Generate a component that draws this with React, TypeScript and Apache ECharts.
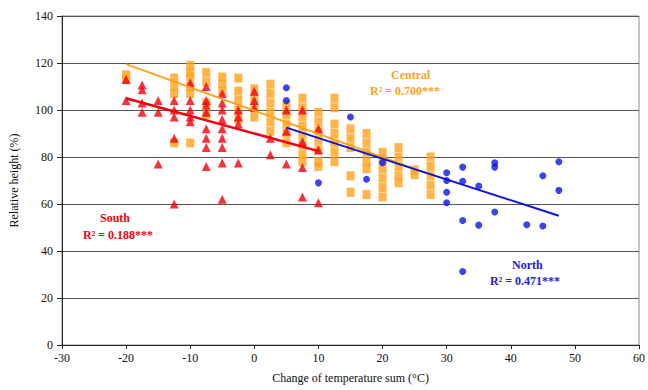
import React, { useEffect, useRef } from "react";
import * as echarts from "echarts";

// South (red triangles): [x, relative height]
const southX = [
  -20, -20,
  -17.5, -17.5, -17.5, -17.5,
  -15, -15, -15,
  -12.5, -12.5, -12.5, -12.5, -12.5,
  -10, -10, -10, -10, -10,
  -7.5, -7.5, -7.5, -7.5, -7.5, -7.5, -7.5, -7.5,
  -5, -5, -5, -5, -5, -5, -5, -5, -5,
  -2.5, -2.5, -2.5, -2.5,
  0, 0, 0,
  2.5, 2.5,
  5, 5, 5,
  7.5, 7.5, 7.5, 7.5,
  10, 10, 10,
];
const southY = [
  113, 104,
  110.6, 108.6, 103, 99,
  104, 99, 77,
  104, 100, 97, 88, 60,
  111.6, 104, 100, 97, 95,
  110, 104, 99, 92, 88, 84, 76, 102,
  107, 103, 100, 96, 92, 88, 84, 77.5, 62,
  100, 97, 94, 77.5,
  108, 104, 101,
  88, 81,
  100, 91, 77,
  100, 86.5, 75.5, 63,
  92, 83, 60.5,
];

// Central (orange squares)
const centralX = [
  -20, -20,
  -12.5, -12.5, -12.5, -12.5,
  -10, -10, -10, -10, -10, -10,
  -7.5, -7.5, -7.5, -7.5,
  -5, -5, -5,
  -2.5, -2.5, -2.5, -2.5, -2.5,
  0, 0, 0, 0,
  2.5, 2.5, 2.5, 2.5, 2.5, 2.5,
  5, 5, 5, 5, 5,
  7.5, 7.5, 7.5, 7.5, 7.5, 7.5, 7.5, 7.5,
  10, 10, 10, 10, 10, 10, 10,
  12.5, 12.5, 12.5, 12.5, 12.5, 12.5, 12.5,
  15, 15, 15, 15, 15,
  17.5, 17.5, 17.5, 17.5, 17.5, 17.5,
  20, 20, 20, 20, 20, 20,
  22.5, 22.5, 22.5, 22.5, 22.5,
  25, 25,
  27.5, 27.5, 27.5, 27.5, 27.5,
];
const centralY = [
  115, 113,
  113.6, 110, 107, 86,
  119, 116, 114, 110, 107, 86,
  116, 112, 103, 98,
  114, 111, 108,
  113.6, 108, 104, 100, 96,
  109, 105, 101, 97,
  111, 107, 103, 99, 95, 91,
  102, 98, 94, 90, 86,
  105, 101, 97, 93, 89, 85, 81, 78,
  99, 95, 91, 87, 83, 78, 76,
  105, 101, 94, 90, 86, 82, 78,
  92, 88, 84, 72, 65,
  90, 86, 82, 78, 75, 64,
  82, 79, 75, 71, 67, 63,
  84, 80, 76, 72, 69,
  74.5, 72.5,
  80, 76, 72, 68, 64,
];

// North (blue circles)
const northX = [
  5, 5, 10, 15, 17.5, 20,
  30, 30, 30, 30,
  32.5, 32.5, 32.5, 32.5,
  35, 35,
  37.5, 37.5, 37.5,
  42.5,
  45, 45,
  47.5, 47.5,
];
const northY = [
  109.5, 104, 69, 97, 70.5, 77.6,
  73.3, 70, 65, 60.5,
  75.7, 69.7, 53, 31.3,
  67.6, 51,
  77.5, 75.7, 56.6,
  51.2,
  72, 50.6,
  78, 65.8,
];

// Regression lines: [x start, x end], [y start, y end]
const southFitX = [-20, 10];
const southFitY = [105, 82.5];
const centralFitX = [-20, 27.5];
const centralFitY = [119.5, 72.5];
const northFitX = [5, 47.5];
const northFitY = [92.5, 55];

const xTicks = { min: -30, max: 60, interval: 10 };
const yTicks = { min: 0, max: 140, interval: 20 };

const zip = (xs: number[], ys: number[]) => xs.map((x, i) => [x, ys[i]]);

const SERIF = "'Liberation Serif', 'DejaVu Serif', serif";

export default function App() {
  const ref = useRef<HTMLDivElement>(null);
  useEffect(() => {
    document.body.style.margin = "0";
    const chart = echarts.init(ref.current!, null, { renderer: "svg" });
    chart.setOption({
      animation: false,
      backgroundColor: "#ffffff",
      grid: {
        left: 60,
        right: 6,
        top: 16,
        bottom: 45,
        show: true,
        borderColor: "#8a8a8a",
        borderWidth: 1,
      },
      xAxis: {
        type: "value",
        min: xTicks.min,
        max: xTicks.max,
        interval: xTicks.interval,
        name: "Change of temperature sum (°C)",
        nameLocation: "middle",
        nameGap: 27,
        nameTextStyle: { fontFamily: SERIF, fontSize: 12, color: "#111" },
        axisLine: { show: true, onZero: false, lineStyle: { color: "#222", width: 1 } },
        axisTick: { show: true, length: 4, lineStyle: { color: "#222" } },
        axisLabel: { fontFamily: SERIF, fontSize: 12, color: "#111", margin: 7 },
        splitLine: { show: false },
      },
      yAxis: {
        type: "value",
        min: yTicks.min,
        max: yTicks.max,
        interval: yTicks.interval,
        name: "Relative height (%)",
        nameLocation: "middle",
        nameGap: 42,
        nameTextStyle: { fontFamily: SERIF, fontSize: 12, color: "#111" },
        axisLine: { show: true, onZero: false, lineStyle: { color: "#222", width: 1 } },
        axisTick: { show: true, length: 5, lineStyle: { color: "#222" } },
        axisLabel: { fontFamily: SERIF, fontSize: 12, color: "#111", margin: 9 },
        splitLine: { show: true, lineStyle: { color: "#555", width: 1 } },
      },
      series: [
        {
          name: "Central",
          type: "scatter",
          symbol: "rect",
          symbolSize: [8, 9],
          itemStyle: { color: "#FFA21A" },
          data: zip(centralX, centralY),
        },
        {
          name: "South",
          type: "scatter",
          symbol: "triangle",
          symbolSize: 9,
          itemStyle: { color: "#F2000F" },
          data: zip(southX, southY),
        },
        {
          name: "North",
          type: "scatter",
          symbol: "circle",
          symbolSize: 7,
          itemStyle: { color: "#0A14F0" },
          data: zip(northX, northY),
        },
        {
          name: "Central fit",
          type: "line",
          symbol: "none",
          lineStyle: { color: "#FFA21A", width: 2 },
          data: zip(centralFitX, centralFitY),
          z: 3,
        },
        {
          name: "South fit",
          type: "line",
          symbol: "none",
          lineStyle: { color: "#F2000F", width: 2.5 },
          data: zip(southFitX, southFitY),
          z: 3,
        },
        {
          name: "North fit",
          type: "line",
          symbol: "none",
          lineStyle: { color: "#0A14D8", width: 2 },
          data: zip(northFitX, northFitY),
          z: 3,
        },
      ],
      graphic: [
        {
          type: "text",
          left: 391,
          top: 69,
          style: { text: "Central", fill: "#FFA21A", font: `bold 12px ${SERIF}` },
        },
        {
          type: "text",
          left: 370,
          top: 85,
          style: { text: "R² = 0.700***", fill: "#FFA21A", font: `bold 12px ${SERIF}` },
        },
        {
          type: "text",
          left: 100,
          top: 212,
          style: { text: "South", fill: "#F2000F", font: `bold 12px ${SERIF}` },
        },
        {
          type: "text",
          left: 83,
          top: 229,
          style: { text: "R² = 0.188***", fill: "#F2000F", font: `bold 12px ${SERIF}` },
        },
        {
          type: "text",
          left: 512,
          top: 259,
          style: { text: "North", fill: "#2020E0", font: `bold 12px ${SERIF}` },
        },
        {
          type: "text",
          left: 490,
          top: 275,
          style: { text: "R² = 0.471***", fill: "#2020E0", font: `bold 12px ${SERIF}` },
        },
      ],
    });
    return () => chart.dispose();
  }, []);
  return <div ref={ref} style={{ width: 648, height: 390 }} />;
}
